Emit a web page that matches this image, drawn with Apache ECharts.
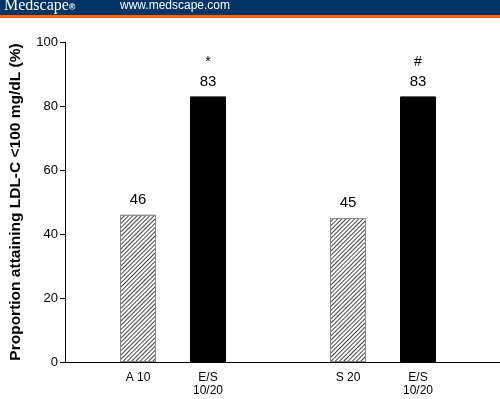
<!DOCTYPE html>
<html><head><meta charset="utf-8">
<script src="https://cdn.jsdelivr.net/npm/echarts@6/dist/echarts.min.js"></script>
<style>html,body{margin:0;padding:0;background:#fff}#c{width:500px;height:399px}</style>
</head><body><div id="c"></div>
<script>
var categories = ['A 10', 'E/S\n10/20', '', 'S 20', 'E/S\n10/20'];
var values = [46, 83, null, 45, 83];
var marks = ['', '*', '', '', '#'];
var kinds = ['hatch', 'solid', '', 'hatch', 'solid'];
var yTicks = [0, 20, 40, 60, 80, 100];

var chart = echarts.init(document.getElementById('c'), null, {renderer: 'canvas'});
var hatch = {
  symbol: 'rect', dashArrayX: [1, 0], dashArrayY: [1, 2],
  rotation: -Math.PI / 4, color: '#444', backgroundColor: '#fff', symbolSize: 1
};
var data = values.map(function (v, i) {
  if (v === null) return null;
  var d = {value: v};
  if (kinds[i] === 'hatch') {
    d.itemStyle = {color: '#fff', borderColor: '#888', borderWidth: 1, decal: hatch};
  } else {
    d.itemStyle = {color: '#000', borderColor: '#000', borderWidth: 1};
  }
  return d;
});
var font = 'Arial, "Liberation Sans", sans-serif';
chart.setOption({
  animation: false,
  aria: {enabled: false, decal: {show: true}},
  grid: [
    {left: 62, right: 0, top: 42, bottom: 37},
    {left: 103, width: 350, top: 42, bottom: 37}
  ],
  xAxis: [
    {gridIndex: 0, type: 'category', data: [''], axisLine: {lineStyle: {color: '#000'}}, axisTick: {show: false}, axisLabel: {show: false}},
    {gridIndex: 1, type: 'category', data: categories, axisLine: {show: false}, axisTick: {show: false},
     axisLabel: {color: '#000', fontFamily: font, fontSize: 12, lineHeight: 13, margin: 9}}
  ],
  yAxis: [
    {gridIndex: 0, type: 'value', min: yTicks[0], max: yTicks[yTicks.length - 1], interval: 20,
     splitLine: {show: false}, axisLine: {show: true, lineStyle: {color: '#000'}},
     axisTick: {show: true, length: 5, lineStyle: {color: '#000'}},
     axisLabel: {color: '#000', fontFamily: font, fontSize: 13, margin: 7},
     name: 'Proportion attaining LDL-C <100 mg/dL (%)', nameLocation: 'middle', nameGap: 41,
     nameTextStyle: {color: '#000', fontFamily: font, fontSize: 15.5, fontWeight: 'bold'}},
    {gridIndex: 1, type: 'value', min: 0, max: 100, show: false}
  ],
  series: [{
    type: 'bar', xAxisIndex: 1, yAxisIndex: 1, barWidth: 36, data: data,
    label: {show: true, position: 'top', distance: 5,
      formatter: function (p) {
        var m = marks[p.dataIndex];
        return (m ? '{m|' + m + '}\n' : '') + '{v|' + p.value + '}';
      },
      rich: {
        v: {fontFamily: font, fontSize: 15, color: '#000', lineHeight: 20},
        m: {fontFamily: font, fontSize: 14, color: '#000', lineHeight: 18}
      }
    }
  }],
  graphic: [
    {type: 'rect', left: 0, top: 0, shape: {width: 500, height: 15}, style: {fill: '#003366'}, z: 10},
    {type: 'rect', left: 0, top: 15, shape: {width: 500, height: 3}, style: {fill: '#ff6600'}, z: 10},
    {type: 'text', left: 4, top: -2, z: 11, style: {text: '{a|Medscape}{b|®}', fill: '#fff',
      rich: {a: {fill: '#fff', font: '16px "Liberation Serif", "Times New Roman", serif'},
             b: {fill: '#fff', font: 'bold 9px Arial, sans-serif', padding: [3, 0, 0, 0]}}}},
    {type: 'text', left: 120, top: 0, z: 11, style: {text: 'www.medscape.com', fill: '#fff', font: '12px Arial, "Liberation Sans", sans-serif'}}
  ]
});
</script></body></html>
